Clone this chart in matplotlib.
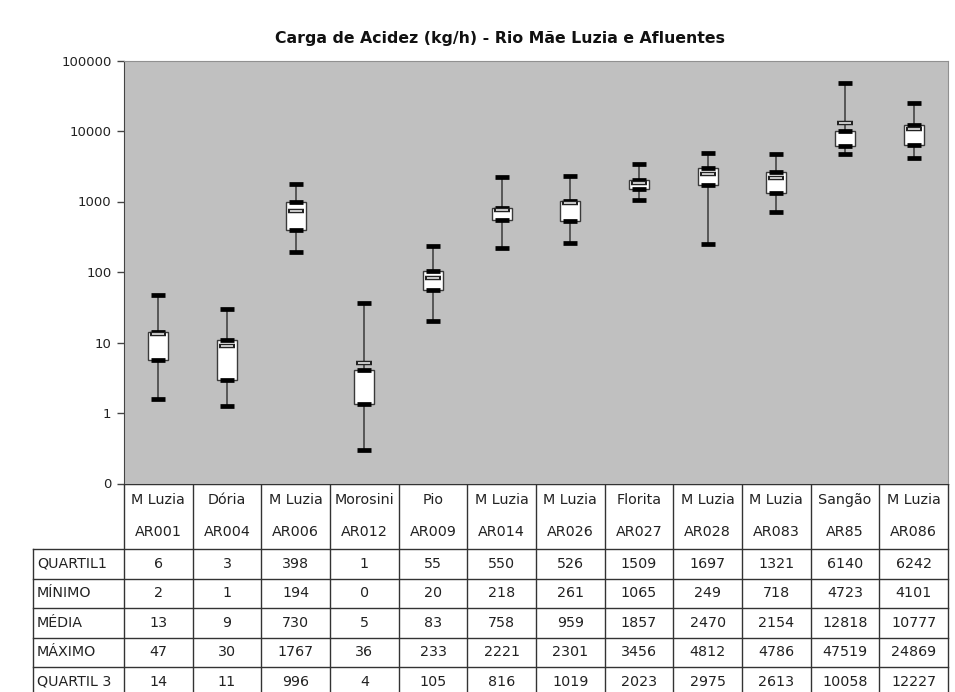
import matplotlib.pyplot as plt
from matplotlib.ticker import FuncFormatter, NullLocator

# dados (kg/h)
nomes = ["M Luzia", "Dória", "M Luzia", "Morosini", "Pio", "M Luzia", "M Luzia",
         "Florita", "M Luzia", "M Luzia", "Sangão", "M Luzia"]
codigos = ["AR001", "AR004", "AR006", "AR012", "AR009", "AR014", "AR026",
           "AR027", "AR028", "AR083", "AR85", "AR086"]
quartil1 = [5.6, 2.9, 398, 1.36, 55, 550, 526, 1509, 1697, 1321, 6140, 6242]
minimo = [1.6, 1.26, 194, 0.30, 20, 218, 261, 1065, 249, 718, 4723, 4101]
media = [13, 9, 730, 5.2, 83, 758, 959, 1857, 2470, 2154, 12818, 10777]
maximo = [47, 30, 1767, 36, 233, 2221, 2301, 3456, 4812, 4786, 47519, 24869]
quartil3 = [14, 11, 996, 4.1, 105, 816, 1019, 2023, 2975, 2613, 10058, 12227]

linhas = ["QUARTIL1", "MÍNIMO", "MÉDIA", "MÁXIMO", "QUARTIL 3"]
valores = [quartil1, minimo, media, maximo, quartil3]

W, H = 955, 692
fig = plt.figure(figsize=(W / 100, H / 100), dpi=100)

# area do grafico em pixels
left, right, top, bottom = 124, 948, 60.5, 483.5
ax = fig.add_axes([left / W, 1 - bottom / H, (right - left) / W, (bottom - top) / H])
ax.set_facecolor("#c0c0c0")
ax.set_yscale("log")
ax.set_ylim(0.1, 100000)
ax.set_xlim(-0.5, len(nomes) - 0.5)

xs = range(len(nomes))
ax.vlines(xs, minimo, maximo, color="#3a3a3a", lw=1.1, zorder=2)
ax.bar(xs, [b - a for a, b in zip(quartil1, quartil3)], bottom=quartil1, width=0.29,
       color="white", edgecolor="#3a3a3a", lw=1.0, zorder=3)
for serie in (minimo, maximo, quartil1, quartil3):
    ax.plot(xs, serie, ls="none", marker="_", ms=10, mew=3.4, color="black", zorder=4)
ax.plot(xs, media, ls="none", marker="_", ms=11, mew=3.2, color="#222222", zorder=5)
ax.plot(xs, media, ls="none", marker="_", ms=9, mew=1.2, color="#e8e8e8", zorder=6)

ax.set_yticks([0.1, 1, 10, 100, 1000, 10000, 100000])
ax.yaxis.set_minor_locator(NullLocator())
ax.yaxis.set_major_formatter(FuncFormatter(lambda v, p: "0" if v < 1 else f"{v:.0f}"))
ax.tick_params(axis="y", direction="out", length=5, width=1, color="#444444",
               labelsize=9.5, labelcolor="#222222", pad=4)
ax.set_xticks([])
ax.spines["left"].set_color("#444444")
for s in ("top", "right", "bottom"):
    ax.spines[s].set_color("#909090")

fig.text(500 / W, 1 - 38 / H, "Carga de Acidez (kg/h) - Rio Mãe Luzia e Afluentes",
         ha="center", va="center", fontsize=11.3, fontweight="bold",
         family="DejaVu Sans", color="#111111")

# tabela desenhada em coordenadas de pixel
tab = fig.add_axes([0, 0, 1, 1 - bottom / H])
tab.set_xlim(0, W)
tab.set_ylim(H, bottom)
tab.axis("off")

cw = (right - left) / len(nomes)
head_bot = 549
rh = 29.5
lc = "#333333"
tab.plot([left, right], [bottom, bottom], color=lc, lw=1)
tab.plot([33, right], [head_bot, head_bot], color=lc, lw=1)
for k in range(1, len(linhas) + 1):
    y = head_bot + k * rh
    tab.plot([33, right], [y, y], color=lc, lw=1)
tab.plot([33, 33], [head_bot, H], color=lc, lw=1)
for i in range(len(nomes) + 1):
    x = left + i * cw
    tab.plot([x, x], [bottom, H], color=lc, lw=1)

fs = 10.3
for i, (n, c) in enumerate(zip(nomes, codigos)):
    cx = left + (i + 0.5) * cw
    tab.text(cx, 500, n, ha="center", va="center", fontsize=fs, color="#222222")
    tab.text(cx, 532, c, ha="center", va="center", fontsize=fs, color="#222222")
for k, (nome, serie) in enumerate(zip(linhas, valores)):
    cy = head_bot + (k + 0.5) * rh
    tab.text(37, cy, nome, ha="left", va="center", fontsize=fs, color="#222222")
    for i, v in enumerate(serie):
        tab.text(left + (i + 0.5) * cw, cy, f"{v:.0f}", ha="center", va="center",
                 fontsize=fs, color="#222222")

fig.savefig("out.png", dpi=100, facecolor="white")
